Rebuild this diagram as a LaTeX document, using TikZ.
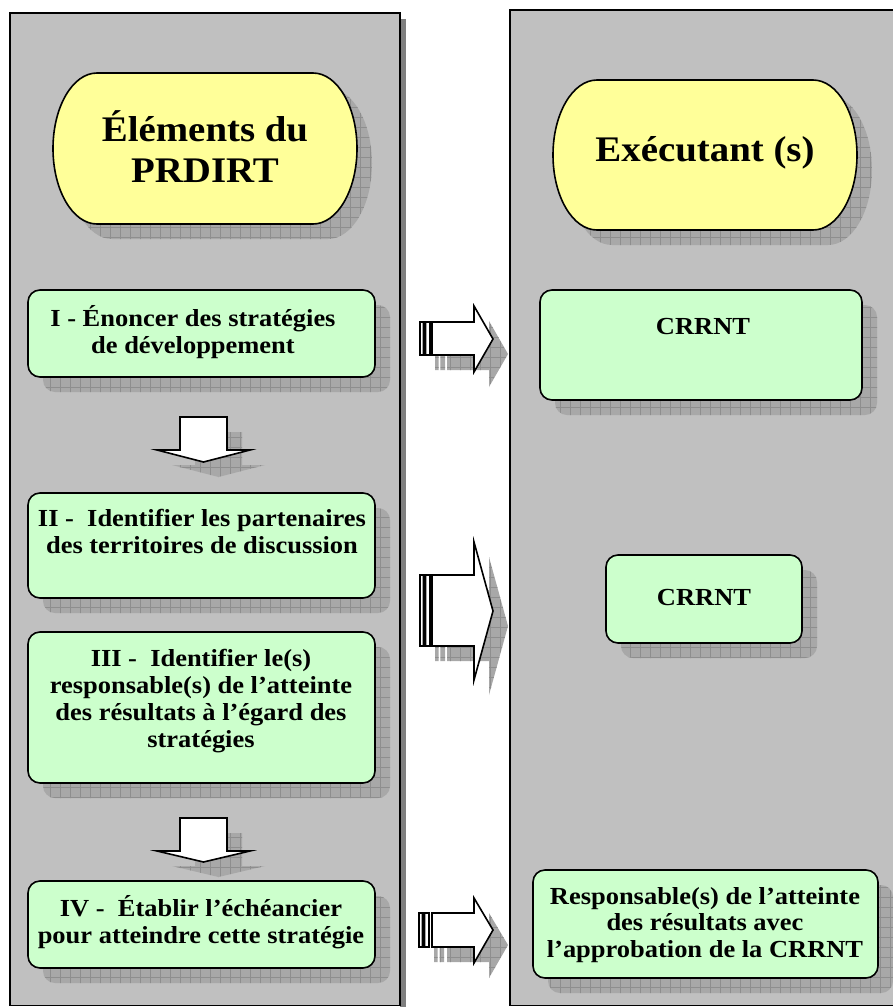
\documentclass[tikz,border=0pt]{standalone}
\usepackage{fontspec}
\setmainfont{Liberation Serif}[FakeStretch=1.08]
\usetikzlibrary{patterns.meta}
\definecolor{panelgray}{HTML}{C0C0C0}
\definecolor{yel}{HTML}{FFFF99}
\definecolor{grn}{HTML}{CCFFCC}
\definecolor{shd}{HTML}{A8A8A8}
\definecolor{shdgrid}{HTML}{8E8E8E}
\definecolor{pshadow}{HTML}{7F7F7F}
\tikzset{
  panel/.style={fill=panelgray, draw=black, line width=1.6pt},
  shadowfill/.style={fill=shd,
    postaction={pattern={Lines[angle=0,distance=10pt,line width=0.4pt]}, pattern color=shdgrid},
    postaction={pattern={Lines[angle=90,distance=10pt,line width=0.4pt]}, pattern color=shdgrid}},
  greenbox/.style={draw=black, line width=1.6pt, fill=grn, rounded corners=12pt, inner sep=0pt},
  yellowbox/.style={draw=black, line width=1.6pt, fill=yel},
  lbl/.style={font=\bfseries\fontsize{24.5}{27}\selectfont, align=center, inner sep=0pt},
  hdr/.style={font=\bfseries\fontsize{36}{41}\selectfont, align=center, inner sep=0pt},
  blockarrow/.style={draw=black, line width=1.6pt, fill=white, line join=miter},
}
\newcommand\mybox[5]{%
  \fill[shadowfill, rounded corners=12pt] (#2+15,#3+15) rectangle (#4+15,#5+15);
  \node[greenbox, minimum width={#4-#2}, minimum height={#5-#3}] (#1) at ({(#2+#4)/2},{(#3+#5)/2}) {};}
\newcommand\stad[6]{% x1 y1 x2 y2 rx ry
  (#1+#5,#2) -- (#3-#5,#2) arc[start angle=-90, end angle=90, x radius=#5, y radius=#6]
  -- (#1+#5,#4) arc[start angle=90, end angle=270, x radius=#5, y radius=#6] -- cycle}
\newcommand\rarrowshape[6]{% ys1 ys2 yh1 yh2 ytip xtail
  (#6,#1) rectangle (#6+3.5,#2)
  (#6+5.5,#1) rectangle (#6+10,#2)
  (432,#1) -- (474,#1) -- (474,#3) -- (493,#5) -- (474,#4) -- (474,#2) -- (432,#2) -- cycle}
\newcommand\darrowshape[3]{% ytop yhead ytip
  (180,#1) -- (227,#1) -- (227,#2) -- (250,#2) -- (203.5,#3) -- (157,#2) -- (180,#2) -- cycle}
\begin{document}
\begin{tikzpicture}[x=1pt,y=-1pt]
\useasboundingbox (0,0) rectangle (893,1007);
\fill[white] (0,0) rectangle (893,1007);
% panels
\fill[pshadow] (400,19) rectangle (406,1007);
\draw[panel] (10,13) rectangle (400,1005.5);
\draw[panel] (510,10) rectangle (905,1005.5);
% headers
\begin{scope}[shift={(15,15)}]
  \fill[shadowfill] \stad{53}{73}{357}{224}{44}{75.5};
  \fill[shadowfill] \stad{553}{80}{857}{230}{44}{75};
\end{scope}
\draw[yellowbox] \stad{53}{73}{357}{224}{44}{75.5};
\draw[yellowbox] \stad{553}{80}{857}{230}{44}{75};
\node[hdr] (hL) at (205,147) {Éléments du\\PRDIRT};
\node[hdr] (hR) at (705,153) {Exécutant (s)};
% left boxes
\mybox{b1}{28}{290}{375}{377}
\mybox{b2}{28}{493}{375}{598}
\mybox{b3}{28}{632}{375}{783}
\mybox{b4}{28}{881}{375}{968}
% right boxes
\mybox{r1}{540}{290}{862}{400}
\mybox{r2}{606}{555}{802}{643}
\mybox{r3}{533}{870}{878}{978}
% down arrows
\begin{scope}[shift={(15,15)}]
  \fill[shadowfill] \darrowshape{417}{450}{462};
  \fill[shadowfill] \darrowshape{818}{851}{862};
\end{scope}
\draw[blockarrow] \darrowshape{417}{450}{462};
\draw[blockarrow] \darrowshape{818}{851}{862};
% right arrows
\begin{scope}[shift={(15,15)}]
  \fill[shadowfill] \rarrowshape{322}{355}{306}{372}{339}{420};
  \fill[shadowfill] \rarrowshape{575}{646}{542}{680}{611}{420};
  \fill[shadowfill] \rarrowshape{913}{947}{898}{963}{930}{419};
\end{scope}
\draw[blockarrow] \rarrowshape{322}{355}{306}{372}{339}{420};
\draw[blockarrow] \rarrowshape{575}{646}{542}{680}{611}{420};
\draw[blockarrow] \rarrowshape{913}{947}{898}{963}{930}{419};
% labels
\node[lbl] (t1) at (193,332) {I - Énoncer des stratégies\\de développement};
\node[lbl] (t2) at (202,532) {II -~ Identifier les partenaires\\des territoires de discussion};
\node[lbl] (t3) at (201,701) {III -~ Identifier le(s)\\responsable(s) de l’atteinte\\des résultats à l’égard des\\stratégies};
\node[lbl] (t4) at (201,922) {IV -~ Établir l’échéancier\\pour atteindre cette stratégie};
\node[lbl] (u1) at (703,327) {CRRNT};
\node[lbl] (u2) at (704,598) {CRRNT};
\node[lbl, font=\bfseries\fontsize{24.5}{26.5}\selectfont] (u3) at (705,925) {Responsable(s) de l’atteinte\\des résultats avec\\l’approbation de la CRRNT};
\end{tikzpicture}
\end{document}
